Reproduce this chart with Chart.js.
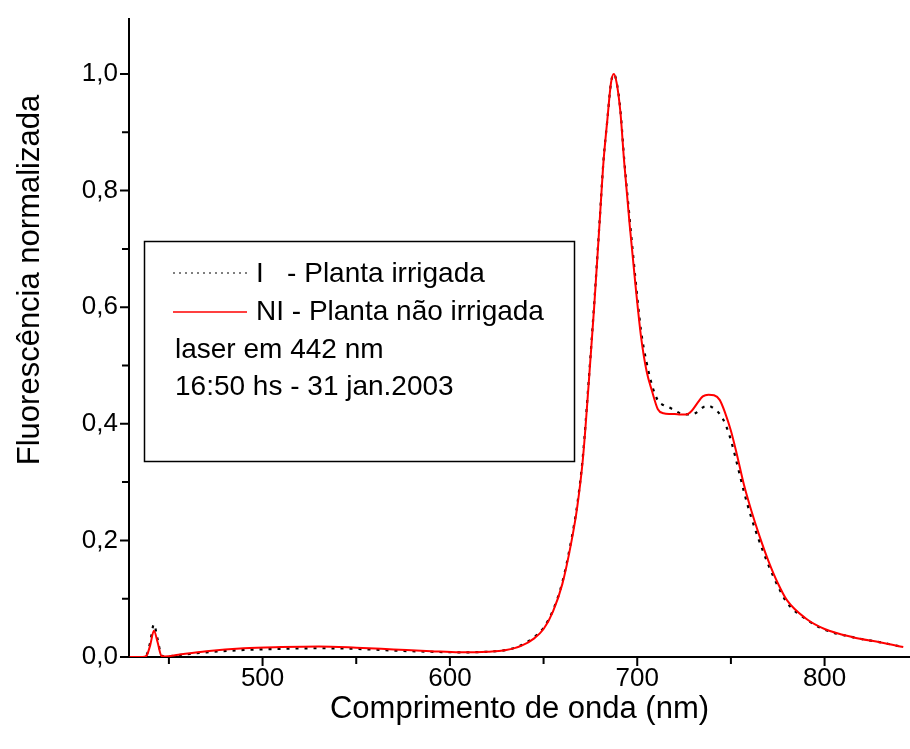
<!DOCTYPE html>
<html>
<head>
<meta charset="utf-8">
<script src="https://cdn.jsdelivr.net/npm/chart.js@4/dist/chart.umd.min.js"></script>
<style>
  html, body { margin: 0; padding: 0; background: #fff; }
  #wrap { width: 910px; height: 749px; }
</style>
</head>
<body>
<div id="wrap"><canvas id="grafico" width="910" height="749"></canvas></div>
<script>
// comprimento de onda (nm)
const comprimentos = [429, 436, 438, 440, 442, 444, 446, 448, 455, 470, 490, 510, 530, 550, 570, 590, 605, 620, 630, 638,
  645, 650, 655, 660, 665, 668, 671, 674, 677, 680, 682, 684, 686, 687.5, 689, 691, 693, 696, 699, 702,
  705, 708, 711, 714, 717, 720, 723, 726, 729, 732, 735, 738, 741, 744, 747, 750, 753, 757, 761, 765,
  770, 775, 780, 790, 800, 815, 830, 842];

// NI - planta nao irrigada (vermelho)
const naoIrrigada = [0, 0, 0.002, 0.02, 0.045, 0.025, 0.002, 0.001, 0.004, 0.010, 0.015, 0.017, 0.018, 0.016, 0.013, 0.010, 0.008, 0.009, 0.012, 0.019,
  0.032, 0.048, 0.078, 0.125, 0.200, 0.258, 0.340, 0.465, 0.60, 0.75, 0.85, 0.92, 0.985, 1.0, 0.985, 0.935, 0.85, 0.74, 0.64, 0.55,
  0.49, 0.455, 0.425, 0.418, 0.417, 0.417, 0.416, 0.416, 0.422, 0.435, 0.447, 0.450, 0.449, 0.441, 0.418, 0.388, 0.35, 0.295, 0.25, 0.21,
  0.165, 0.127, 0.097, 0.066, 0.048, 0.034, 0.025, 0.017];

// I - planta irrigada (pontilhado)
const irrigada = [0, 0, 0.003, 0.025, 0.056, 0.03, 0.003, 0.001, 0.003, 0.008, 0.012, 0.014, 0.015, 0.014, 0.011, 0.009, 0.008, 0.009, 0.012, 0.020,
  0.034, 0.050, 0.080, 0.128, 0.204, 0.262, 0.345, 0.47, 0.605, 0.752, 0.852, 0.92, 0.985, 1.0, 0.986, 0.938, 0.855, 0.75, 0.65, 0.56,
  0.505, 0.465, 0.44, 0.432, 0.428, 0.423, 0.418, 0.416, 0.416, 0.42, 0.428, 0.431, 0.426, 0.417, 0.40, 0.372, 0.335, 0.283, 0.238, 0.2,
  0.158, 0.122, 0.093, 0.065, 0.047, 0.034, 0.025, 0.017];

const ticksX = [500, 600, 700, 800];
const ticksXmenores = [450, 550, 650, 750];
const ticksY = [0, 0.2, 0.4, 0.6, 0.8, 1.0];
const ticksYmenores = [0.1, 0.3, 0.5, 0.7, 0.9];

const tituloY = 'Fluorescência normalizada';
const tituloX = 'Comprimento de onda (nm)';
const legendaLinhas = ['I   - Planta irrigada', 'NI - Planta não irrigada', 'laser em 442 nm', '16:50 hs - 31 jan.2003'];

const fonte = '"Liberation Sans", Arial, sans-serif';

const pontos = serie => comprimentos.map((x, i) => ({ x: x, y: serie[i] }));

// marcas dos eixos (maiores e menores), titulo do eixo y e caixa de legenda
const extras = {
  id: 'extras',
  afterDraw(chart) {
    const ctx = chart.ctx;
    const sx = chart.scales.x, sy = chart.scales.y;
    const area = chart.chartArea;
    ctx.save();
    ctx.strokeStyle = '#000';
    ctx.lineWidth = 2;
    ctx.beginPath();
    ticksX.forEach(v => { const p = sx.getPixelForValue(v); ctx.moveTo(p, area.bottom); ctx.lineTo(p, area.bottom + 9); });
    ticksXmenores.forEach(v => { const p = sx.getPixelForValue(v); ctx.moveTo(p, area.bottom); ctx.lineTo(p, area.bottom + 7); });
    ticksY.forEach(v => { const p = sy.getPixelForValue(v); ctx.moveTo(area.left, p); ctx.lineTo(area.left - 9, p); });
    ticksYmenores.forEach(v => { const p = sy.getPixelForValue(v); ctx.moveTo(area.left, p); ctx.lineTo(area.left - 7, p); });
    ctx.stroke();

    // titulo do eixo y (fica acima do centro no original)
    ctx.fillStyle = '#000';
    ctx.font = '31px ' + fonte;
    ctx.textAlign = 'center';
    ctx.textBaseline = 'middle';
    ctx.save();
    ctx.translate(30, 280);
    ctx.rotate(-Math.PI / 2);
    ctx.fillText(tituloY, 0, 0);
    ctx.restore();

    // legenda
    ctx.lineWidth = 1.5;
    ctx.strokeRect(144.5, 241.5, 430, 220);
    ctx.lineWidth = 1.2;
    ctx.setLineDash([2, 4]);
    ctx.beginPath(); ctx.moveTo(173, 273); ctx.lineTo(247, 273); ctx.stroke();
    ctx.setLineDash([]);
    ctx.strokeStyle = '#ff0000';
    ctx.lineWidth = 1.5;
    ctx.beginPath(); ctx.moveTo(173, 312); ctx.lineTo(247, 312); ctx.stroke();

    ctx.font = '28px ' + fonte;
    ctx.textAlign = 'left';
    ctx.fillText(legendaLinhas[0], 256, 274);
    ctx.fillText(legendaLinhas[1], 256, 312);
    ctx.fillText(legendaLinhas[2], 175, 350);
    ctx.fillText(legendaLinhas[3], 175, 387);
    ctx.restore();
  }
};

new Chart(document.getElementById('grafico').getContext('2d'), {
  type: 'line',
  data: {
    datasets: [{
      label: 'NI - Planta não irrigada',
      data: pontos(naoIrrigada),
      borderColor: '#ff0000',
      borderWidth: 2,
      pointRadius: 0,
      cubicInterpolationMode: 'monotone',
      fill: false
    }, {
      label: 'I - Planta irrigada',
      data: pontos(irrigada),
      borderColor: '#000000',
      borderWidth: 2.2,
      borderDash: [3, 6],
      pointRadius: 0,
      cubicInterpolationMode: 'monotone',
      fill: false
    }]
  },
  options: {
    responsive: false,
    animation: false,
    layout: { padding: { top: 0, right: 0, left: 0, bottom: 0 } },
    plugins: { legend: { display: false }, tooltip: { enabled: false } },
    scales: {
      x: {
        type: 'linear',
        min: 428.7,
        max: 845.6,
        afterFit(s) { s.height = 92; },
        afterBuildTicks(s) { s.ticks = ticksX.map(v => ({ value: v })); },
        grid: { display: false },
        border: { display: true, color: '#000', width: 2 },
        ticks: {
          color: '#000',
          font: { family: fonte, size: 26 },
          padding: -2,
          maxRotation: 0,
          callback: v => String(v)
        },
        title: {
          display: true,
          text: tituloX,
          color: '#000',
          font: { family: fonte, size: 31, lineHeight: 1.2 },
          padding: { top: 0, bottom: 21 }
        }
      },
      y: {
        type: 'linear',
        min: 0,
        max: 1.095,
        afterFit(s) { s.width = 129; },
        afterBuildTicks(s) { s.ticks = ticksY.map(v => ({ value: v })); },
        grid: { display: false },
        border: { display: true, color: '#000', width: 2 },
        ticks: {
          color: '#000',
          font: { family: fonte, size: 26 },
          padding: 3,
          callback: v => v.toFixed(1).replace('.', ',')
        },
        title: { display: false }
      }
    }
  },
  plugins: [extras]
});
</script>
</body>
</html>
